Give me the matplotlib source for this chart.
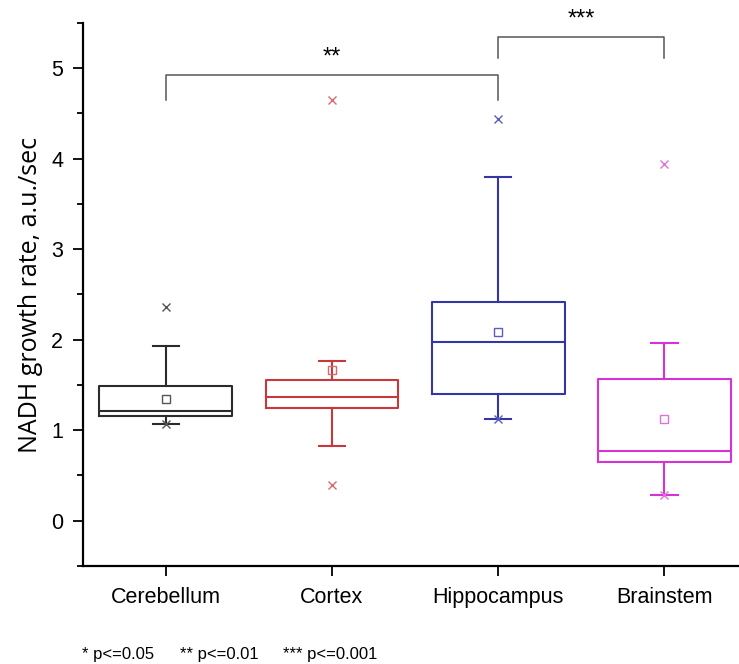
import matplotlib
matplotlib.use("Agg")
import matplotlib.pyplot as plt
from matplotlib.ticker import MultipleLocator

# box statistics
groups = ["Cerebellum", "Cortex", "Hippocampus", "Brainstem"]
q1 = [1.16, 1.25, 1.40, 0.65]
medians = [1.21, 1.37, 1.97, 0.77]
q3 = [1.49, 1.56, 2.42, 1.57]
means = [1.35, 1.67, 2.08, 1.12]
whis_lo = [1.07, 0.83, 1.12, 0.28]
whis_hi = [1.93, 1.76, 3.80, 1.96]
min_vals = [1.07, 0.39, 1.12, 0.28]
max_vals = [2.36, 4.65, 4.44, 3.94]

# significance brackets: (left group, right group, label, bar height, leg bottom)
brackets = [(1, 3, "**", 4.92, 4.65), (3, 4, "***", 5.34, 5.11)]
footnotes = ["* p<=0.05", "** p<=0.01", "*** p<=0.001"]
footnote_x = [82, 180, 283]

colors = ["#2b2b2b", "#c8383a", "#3436a8", "#d633d6"]
light = ["#555555", "#d96a6c", "#5a5cc0", "#e070e0"]

plt.rcParams["font.family"] = ["Liberation Sans", "DejaVu Sans"]

fig = plt.figure(figsize=(7.39, 6.64), dpi=100)
ax = fig.add_axes([0.112, 0.1476, 0.888, 0.8178])

positions = list(range(1, len(groups) + 1))
for i, pos in enumerate(positions):
    stats = [{
        "med": medians[i], "q1": q1[i], "q3": q3[i],
        "whislo": whis_lo[i], "whishi": whis_hi[i],
        "mean": means[i], "fliers": [],
    }]
    c = colors[i]
    ax.bxp(stats, positions=[pos], widths=0.8, showmeans=True, showfliers=False,
           capwidths=0.16,
           boxprops=dict(color=c, linewidth=1.5),
           medianprops=dict(color=c, linewidth=1.5),
           whiskerprops=dict(color=c, linewidth=1.5),
           capprops=dict(color=c, linewidth=1.5),
           meanprops=dict(marker="s", markerfacecolor="none", markeredgecolor=light[i],
                          markersize=5.5, markeredgewidth=1))
    # min / max markers
    ax.plot([pos, pos], [min_vals[i], max_vals[i]], linestyle="none", marker="x",
            color=light[i], markersize=6, markeredgewidth=1.0)

# significance brackets
for a, b, label, top, leg in brackets:
    ax.plot([a, a, b, b], [leg, top, top, leg], color="#555555", linewidth=1.1,
            clip_on=False)
    ax.text((a + b) / 2, top + 0.2, label, ha="center", va="center",
            fontsize=17, clip_on=False)

ax.set_xlim(0.5, 4.45)
ax.set_ylim(-0.5, 5.5)
ax.set_xticks(positions)
ax.set_xticklabels(groups)
ax.yaxis.set_major_locator(MultipleLocator(1))
ax.yaxis.set_minor_locator(MultipleLocator(0.5))
ax.tick_params(axis="both", which="major", direction="out", length=7, width=1.3,
               labelsize=15.5, pad=7)
ax.tick_params(axis="y", which="minor", direction="out", length=4, width=1.3)
ax.tick_params(axis="x", which="major", pad=8)

for side in ["top", "right"]:
    ax.spines[side].set_visible(False)
for side in ["left", "bottom"]:
    ax.spines[side].set_linewidth(1.6)

ax.set_ylabel("NADH growth rate, a.u./sec", family=["Open Sans", "DejaVu Sans"],
              fontsize=18, labelpad=6)

for x, t in zip(footnote_x, footnotes):
    fig.text(x / 739, 1 - 654 / 664, t, fontsize=12, va="center", ha="left")

fig.savefig("out.png", dpi=100)
